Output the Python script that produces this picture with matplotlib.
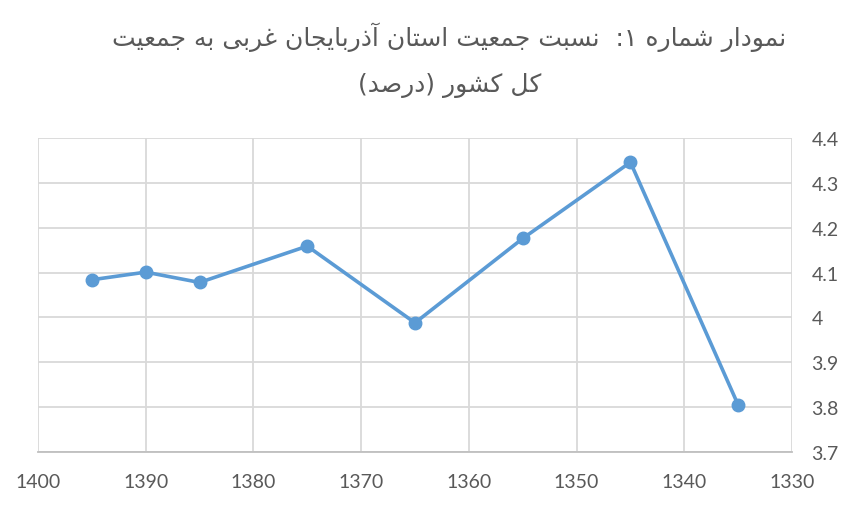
import matplotlib
matplotlib.use("Agg")
import matplotlib.pyplot as plt
from matplotlib.ticker import FuncFormatter

years = [1395, 1390, 1385, 1375, 1365, 1355, 1345, 1335]
share = [4.084, 4.101, 4.078, 4.159, 3.988, 4.176, 4.346, 3.805]
x_ticks = [1400, 1390, 1380, 1370, 1360, 1350, 1340, 1330]
y_ticks = [3.7, 3.8, 3.9, 4.0, 4.1, 4.2, 4.3, 4.4]
title_lines = ["نمودار شماره ۱:  نسبت جمعیت استان آذربایجان غربی به جمعیت",
               "کل کشور (درصد)"]

# presentation forms: isolated, final, initial, medial
FORMS = {
    "ا": (0xFE8D, 0xFE8E), "آ": (0xFE81, 0xFE82),
    "د": (0xFEA9, 0xFEAA), "ذ": (0xFEAB, 0xFEAC),
    "ر": (0xFEAD, 0xFEAE), "و": (0xFEED, 0xFEEE),
    "ب": (0xFE8F, 0xFE90, 0xFE91, 0xFE92), "ت": (0xFE95, 0xFE96, 0xFE97, 0xFE98),
    "ج": (0xFE9D, 0xFE9E, 0xFE9F, 0xFEA0), "س": (0xFEB1, 0xFEB2, 0xFEB3, 0xFEB4),
    "ش": (0xFEB5, 0xFEB6, 0xFEB7, 0xFEB8), "ص": (0xFEB9, 0xFEBA, 0xFEBB, 0xFEBC),
    "ع": (0xFEC9, 0xFECA, 0xFECB, 0xFECC), "غ": (0xFECD, 0xFECE, 0xFECF, 0xFED0),
    "ل": (0xFEDD, 0xFEDE, 0xFEDF, 0xFEE0), "م": (0xFEE1, 0xFEE2, 0xFEE3, 0xFEE4),
    "ن": (0xFEE5, 0xFEE6, 0xFEE7, 0xFEE8), "ه": (0xFEE9, 0xFEEA, 0xFEEB, 0xFEEC),
    "ی": (0xFBFC, 0xFBFD, 0xFBFE, 0xFBFF), "ک": (0xFB8E, 0xFB8F, 0xFB90, 0xFB91),
}
MIRROR = {"(": ")", ")": "("}


def shape_rtl(text):
    out = []
    for i, ch in enumerate(text):
        f = FORMS.get(ch)
        if f is None:
            out.append(MIRROR.get(ch, ch))
            continue
        prev = text[i - 1] if i > 0 else ""
        nxt = text[i + 1] if i + 1 < len(text) else ""
        join_prev = prev in FORMS and len(FORMS[prev]) == 4
        join_next = len(f) == 4 and nxt in FORMS
        if join_prev and join_next:
            code = f[3]
        elif join_prev:
            code = f[1]
        elif join_next:
            code = f[2]
        else:
            code = f[0]
        out.append(chr(code))
    return "".join(reversed(out))


plt.rcParams["font.family"] = ["Lato", "DejaVu Sans"]
grey = "#595959"

fig = plt.figure(figsize=(8.54, 5.06), dpi=100)
ax = fig.add_axes([0.0445, 0.1047, 0.8829, 0.6206])

ax.plot(years, share, color="#5b9bd5", linewidth=2.6, marker="o", markersize=9)

ax.set_xlim(1400, 1330)
ax.set_ylim(3.7, 4.4)
ax.set_xticks(x_ticks)
ax.set_yticks(y_ticks)
ax.yaxis.set_major_formatter(FuncFormatter(lambda v, p: f"{v:g}"))
ax.yaxis.tick_right()
ax.grid(True, color="#d9d9d9", linewidth=1.3)
ax.set_axisbelow(True)
for side in ["left", "top", "right"]:
    ax.spines[side].set_visible(False)
ax.spines["bottom"].set_color("#bfbfbf")
ax.spines["bottom"].set_linewidth(1.3)
ax.tick_params(axis="both", length=0, labelsize=14, labelcolor=grey)
ax.tick_params(axis="x", pad=15)
ax.tick_params(axis="y", pad=14)

fig.text(0.526, 0.927, shape_rtl(title_lines[0]), ha="center", va="center",
         fontsize=18, color=grey, family="DejaVu Sans")
fig.text(0.526, 0.832, shape_rtl(title_lines[1]), ha="center", va="center",
         fontsize=18, color=grey, family="DejaVu Sans")

fig.savefig("out.png", dpi=100)
